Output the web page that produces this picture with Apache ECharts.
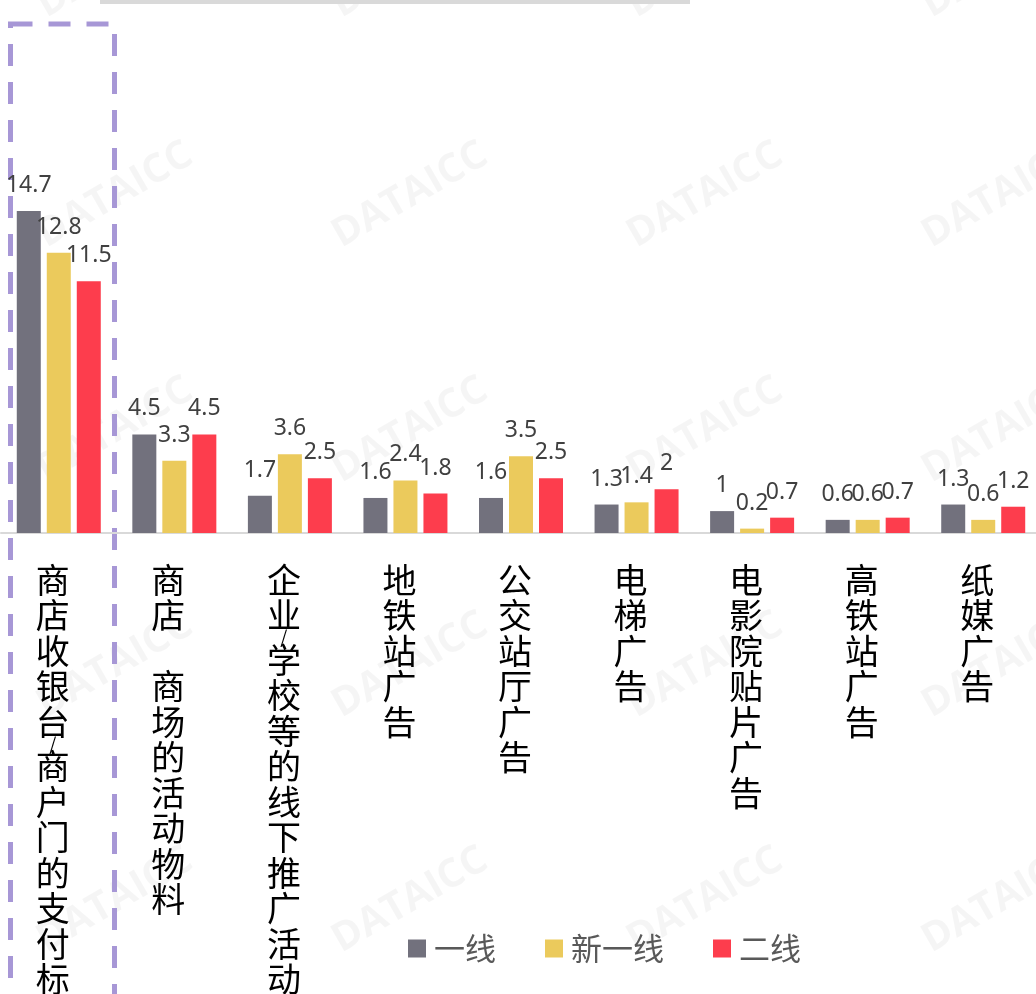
<!DOCTYPE html>
<html>
<head>
<meta charset="utf-8">
<script src="https://cdn.jsdelivr.net/npm/echarts@6/dist/echarts.min.js"></script>
<style>
html,body{margin:0;padding:0;background:#fff;}
#zhifu{width:1036px;height:994px;}
</style>
</head>
<body>
<div id="zhifu"></div>
<script>
var categories = ['商店收银台/商户门的支付标', '商店　商场的活动物料', '企业/学校等的线下推广活动', '地铁站广告', '公交站厅广告', '电梯广告', '电影院贴片广告', '高铁站广告', '纸媒广告'];
var seriesNames = ['一线', '新一线', '二线'];
var yixian = [14.7, 4.5, 1.7, 1.6, 1.6, 1.3, 1, 0.6, 1.3];
var xinyixian = [12.8, 3.3, 3.6, 2.4, 3.5, 1.4, 0.2, 0.6, 0.6];
var erxian = [11.5, 4.5, 2.5, 1.8, 2.5, 2, 0.7, 0.7, 1.2];

function zhifu() {
	var dom = document.getElementById("zhifu");
	var myChart = echarts.init(dom);
	var option = null;

	var color = ['#72717d', '#ebca5c', '#fd3d4d'];
	var fontCn = '"Noto Sans CJK SC", "Noto Sans", sans-serif';

	// 竖排文字
	function shu(name) {
		var arr = [];
		name.split('').forEach(function(ch) {
			if(ch === '/') {
				arr.push('{s|/}');
			} else {
				arr.push('{c|' + ch + '}');
			}
		});
		return arr.join('\n');
	}

	var label = {
		show: true,
		position: 'top',
		distance: 14,
		color: '#404040',
		fontSize: 23,
		fontFamily: '"Noto Sans", sans-serif'
	};

	// 水印
	var shuiyin = [];
	[-35, 195, 430, 665, 900].forEach(function(y) {
		[115, 410, 705, 1000].forEach(function(x) {
			shuiyin.push({
				type: 'text',
				x: x,
				y: y,
				rotation: Math.PI / 6,
				z: -1,
				style: {
					text: 'DATAICC',
					fill: 'rgba(0,0,0,0.04)',
					font: 'bold 40px "Open Sans", sans-serif',
					align: 'center',
					verticalAlign: 'middle'
				}
			});
		});
	});

	option = {
		color: color,
		animation: false,
		legend: {
			data: seriesNames,
			left: 408,
			top: 933,
			padding: 0,
			icon: 'rect',
			itemWidth: 18,
			itemHeight: 18,
			itemGap: 49,
			textStyle: {
				color: '#595959',
				fontSize: 31,
				fontFamily: fontCn,
				padding: [0, 0, 0, 3]
			}
		},
		grid: {
			left: 1,
			width: 1040,
			top: 95,
			bottom: 461,
			outerBoundsMode: 'none',
			containLabel: false
		},
		xAxis: {
			type: 'category',
			data: categories,
			axisLine: {
				lineStyle: {
					color: '#d9d9d9',
					width: 2
				}
			},
			axisTick: {
				show: false
			},
			axisLabel: {
				interval: 0,
				margin: 29,
				padding: [0, 12, 0, 0],
				formatter: shu,
				rich: {
					c: {
						fontSize: 34,
						lineHeight: 35.5,
						color: '#000',
						fontFamily: fontCn
					},
					s: {
						fontSize: 18,
						lineHeight: 9,
						color: '#000',
						fontFamily: fontCn
					}
				}
			}
		},
		yAxis: {
			type: 'value',
			min: 0,
			max: 20,
			show: false,
			splitLine: {
				show: false
			}
		},
		series: [{
			name: seriesNames[0],
			type: 'bar',
			data: yixian,
			barWidth: 24,
			barGap: '25%',
			label: label
		}, {
			name: seriesNames[1],
			type: 'bar',
			data: xinyixian,
			barWidth: 24,
			barGap: '25%',
			label: label
		}, {
			name: seriesNames[2],
			type: 'bar',
			data: erxian,
			barWidth: 24,
			barGap: '25%',
			label: label
		}],
		graphic: shuiyin.concat([{
			type: 'rect',
			shape: { x: 100, y: 0, width: 590, height: 4 },
			style: { fill: '#d9d9d9' }
		}, {
			type: 'rect',
			shape: { x: 10.5, y: 24, width: 104, height: 1000 },
			style: {
				fill: 'none',
				stroke: '#a797d6',
				lineWidth: 5,
				lineDash: [22, 16]
			}
		}])
	};

	if(option && typeof option === "object") {
		myChart.setOption(option, true);
	}
}

zhifu();
</script>
</body>
</html>
